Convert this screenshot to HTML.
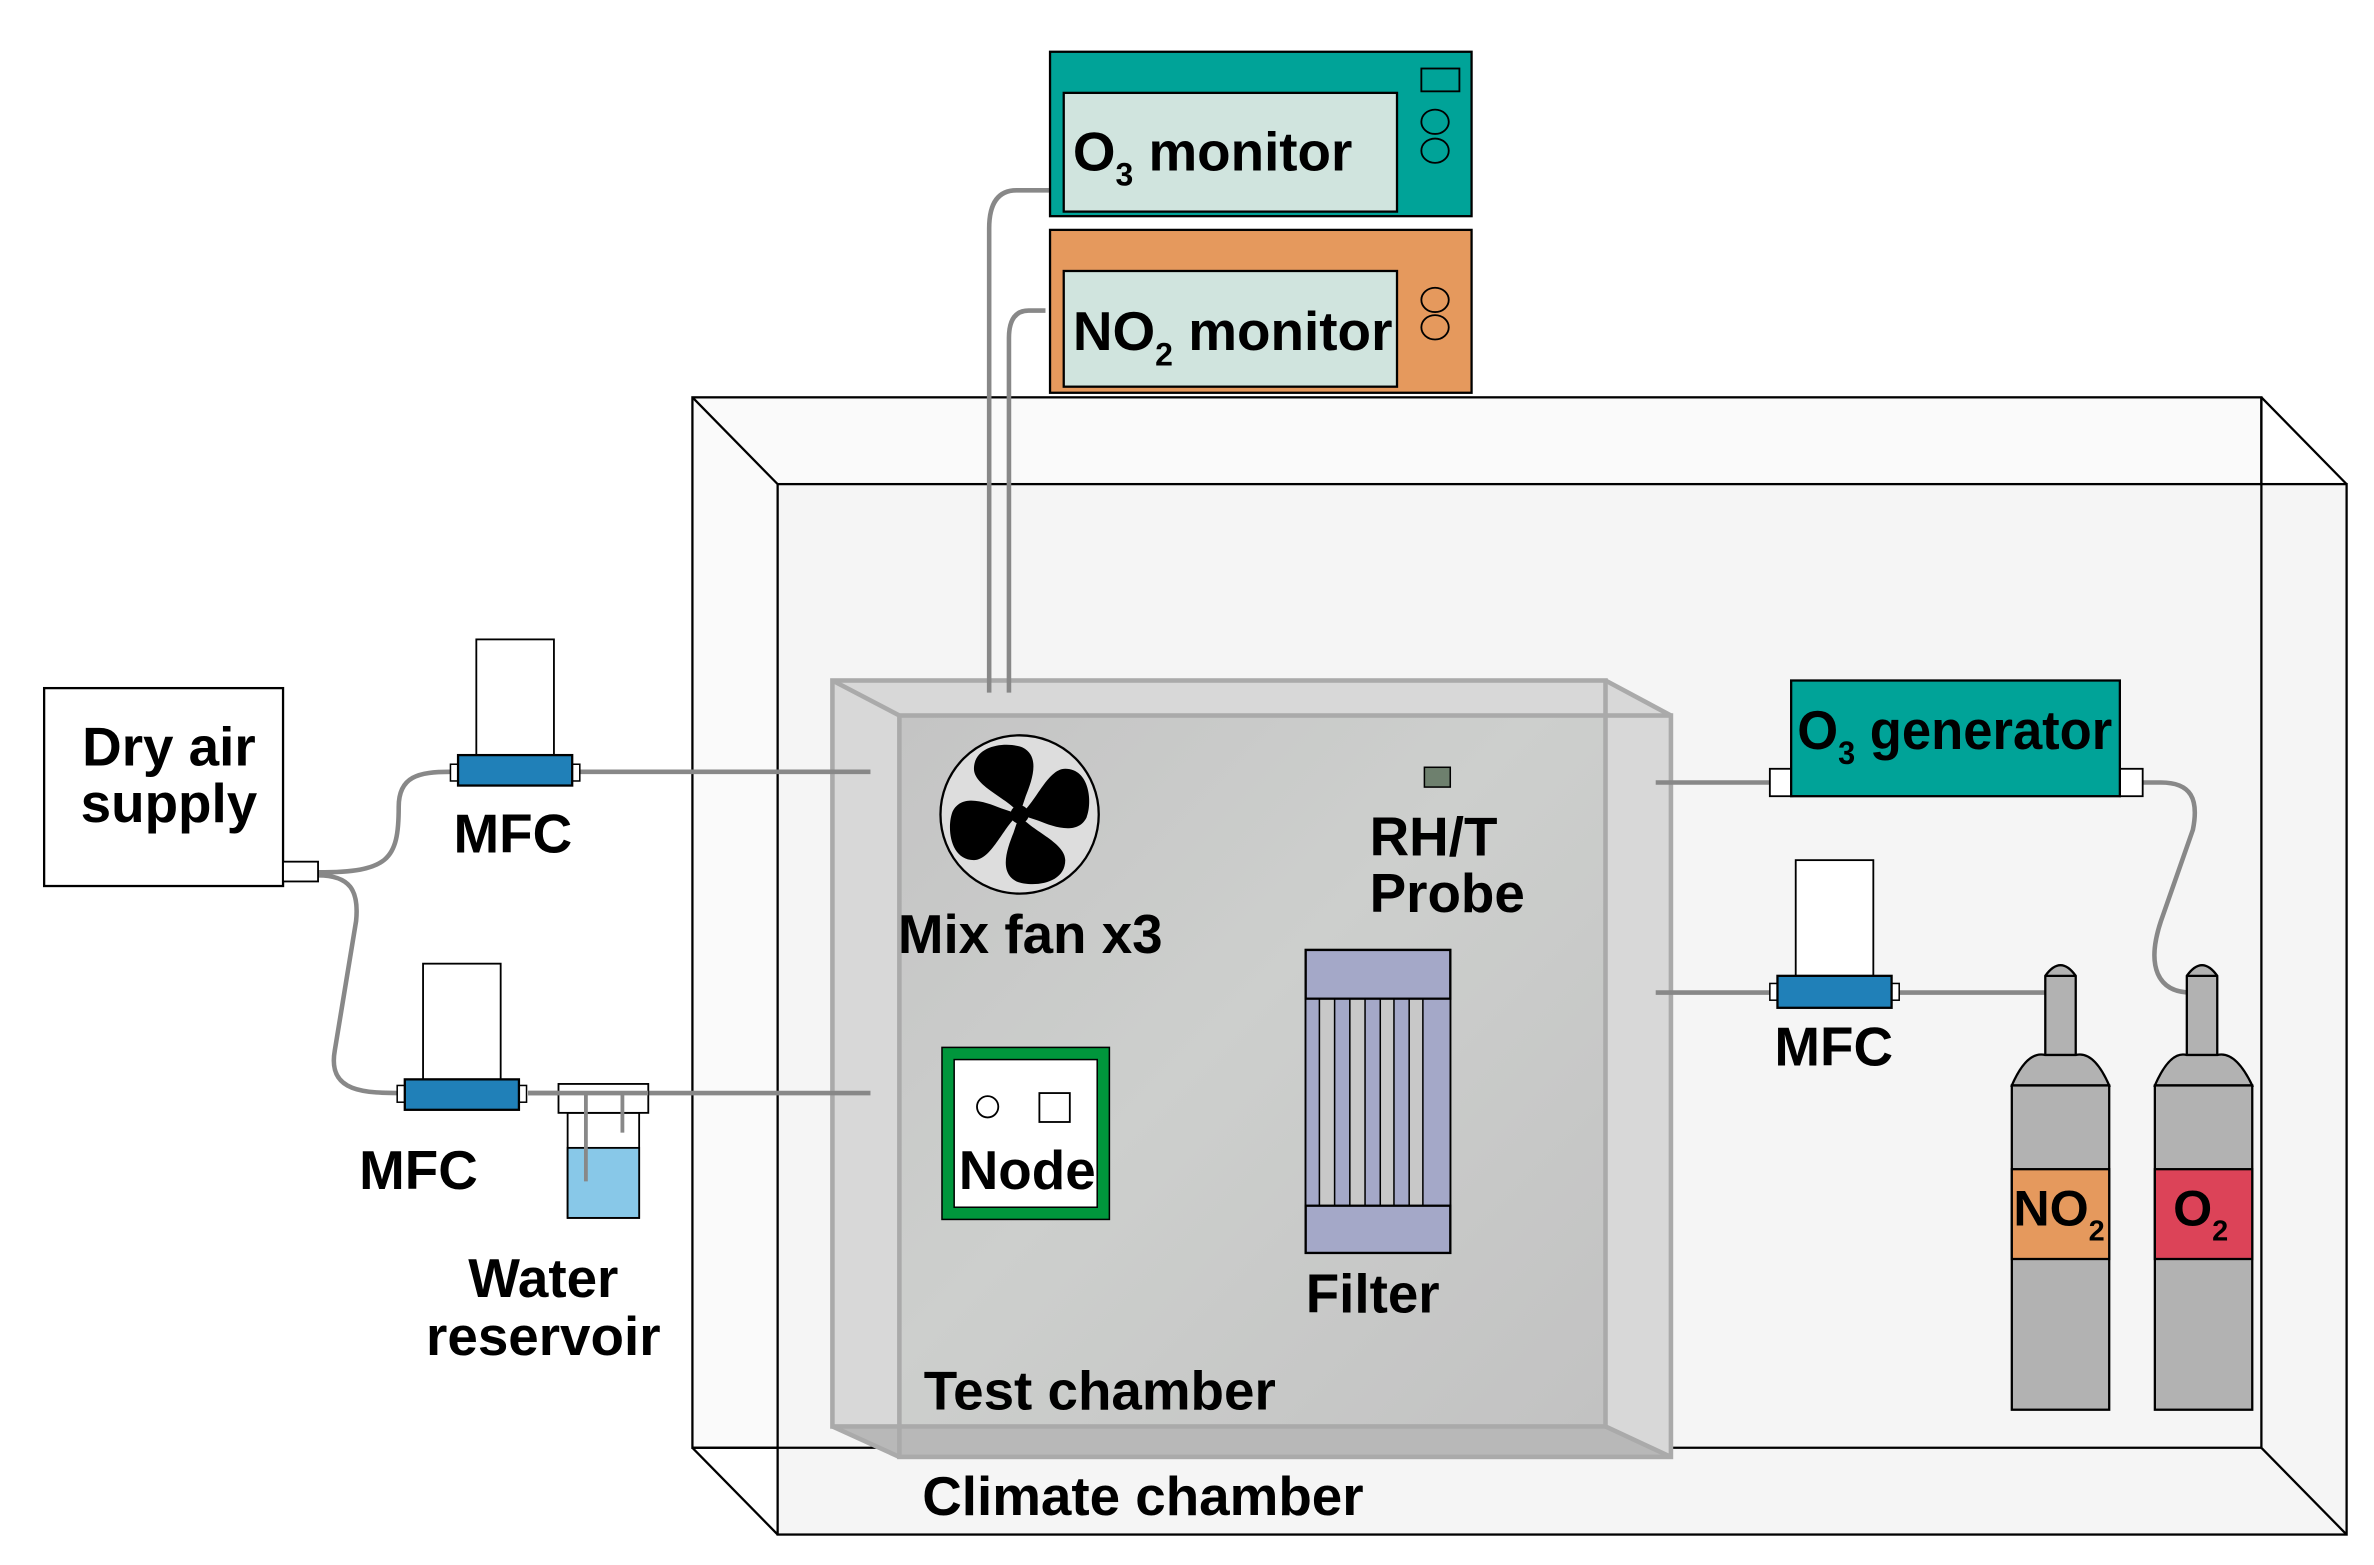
<!DOCTYPE html>
<html><head><meta charset="utf-8"><style>
html,body{margin:0;padding:0;background:#fff;}
svg{display:block;}
text{font-family:"Liberation Sans",Arial,sans-serif;font-weight:bold;fill:#000;}
</style></head><body>
<svg width="2374" height="1565" viewBox="0 0 1560 1028" preserveAspectRatio="none" xmlns="http://www.w3.org/2000/svg">
<defs>
<linearGradient id="tg" x1="0" y1="0" x2="1" y2="1">
<stop offset="0" stop-color="#c4c4c4"/><stop offset="0.45" stop-color="#cdcfcd"/><stop offset="1" stop-color="#c2c2c2"/>
</linearGradient>
</defs>
<rect width="1560" height="1028" fill="#fff"/>
<!-- Climate chamber -->
<rect x="455" y="261" width="1031" height="690" fill="#fafafa" stroke="#000" stroke-width="1.5"/>
<rect x="511" y="318" width="1031" height="690" fill="#f5f5f5" stroke="#000" stroke-width="1.5"/>
<line x1="455" y1="261" x2="511" y2="318" stroke="#000" stroke-width="1.5"/>
<line x1="1486" y1="261" x2="1542" y2="318" stroke="#000" stroke-width="1.5"/>
<line x1="455" y1="951" x2="511" y2="1008" stroke="#000" stroke-width="1.5"/>
<line x1="1486" y1="951" x2="1542" y2="1008" stroke="#000" stroke-width="1.5"/>
<line x1="455" y1="951" x2="1486" y2="951" stroke="#000" stroke-width="1.5"/>
<line x1="1486" y1="261" x2="1486" y2="951" stroke="#000" stroke-width="1.5"/>

<!-- Test chamber -->
<polygon points="547,447 1055,447 1098,470 1098,957 591,957 547,937" fill="#d8d8d8"/>
<rect x="591" y="470" width="464" height="467" fill="url(#tg)"/>
<polygon points="547,937 1055,937 1098,957 591,957" fill="#b8b8b8"/>
<g fill="none" stroke="#aaa" stroke-width="3">
<rect x="547" y="447" width="508" height="490"/>
<rect x="591" y="470" width="507" height="487"/>
<line x1="547" y1="447" x2="591" y2="470"/>
<line x1="1055" y1="447" x2="1098" y2="470"/>
<line x1="547" y1="937" x2="591" y2="957"/>
<line x1="1055" y1="937" x2="1098" y2="957"/>
</g>

<!-- tubes -->
<g fill="none" stroke="#888" stroke-width="3">
<path d="M690,125 L668,125 Q650,125 650,150 L650,455"/>
<path d="M687,204 L676,204 Q663,204 663,222 L663,455"/>
<path d="M381,507 L572,507"/>
<path d="M347,718 L572,718"/>
<path d="M209,573 C255,573 262,565 262,530 C262,510 275,507 296,507"/>
<path d="M209,575 C230,575 236,585 234,605 L220,690 C215,718 240,718 266,718"/>
<path d="M1088,514 L1163,514"/>
<path d="M1088,652 L1163,652"/>
<path d="M1248,652 L1344,652"/>
<path d="M1408,514 L1420,514 C1440,514 1445,525 1441,545 L1420,605 C1410,635 1418,652 1440,652"/>
</g>

<!-- O3 monitor -->
<rect x="690" y="34" width="277" height="108" fill="#00a398" stroke="#000" stroke-width="1.5"/>
<rect x="699" y="61" width="219" height="78" fill="#d0e4de" stroke="#000" stroke-width="1.5"/>
<rect x="934" y="45" width="25" height="15" fill="none" stroke="#000" stroke-width="1.2"/>
<ellipse cx="943" cy="80" rx="9" ry="8" fill="none" stroke="#000" stroke-width="1.2"/>
<ellipse cx="943" cy="99" rx="9" ry="8" fill="none" stroke="#000" stroke-width="1.2"/>
<text x="705" y="112" font-size="36">O<tspan font-size="21" dy="10">3</tspan><tspan dy="-10"> monitor</tspan></text>
<!-- NO2 monitor -->
<rect x="690" y="151" width="277" height="107" fill="#e5995d" stroke="#000" stroke-width="1.5"/>
<rect x="699" y="178" width="219" height="76" fill="#d0e4de" stroke="#000" stroke-width="1.5"/>
<ellipse cx="943" cy="197" rx="9" ry="8" fill="none" stroke="#000" stroke-width="1.2"/>
<ellipse cx="943" cy="215" rx="9" ry="8" fill="none" stroke="#000" stroke-width="1.2"/>
<text x="705" y="230" font-size="36" textLength="210" lengthAdjust="spacingAndGlyphs">NO<tspan font-size="21" dy="10">2</tspan><tspan dy="-10"> monitor</tspan></text>

<!-- Dry air -->
<rect x="29" y="452" width="157" height="130" fill="#fff" stroke="#000" stroke-width="1.5"/>
<rect x="186" y="566" width="23" height="13" fill="#fff" stroke="#000" stroke-width="1.2"/>
<text x="111" y="503" font-size="36" text-anchor="middle">Dry air</text>
<text x="111" y="540" font-size="36" text-anchor="middle">supply</text>

<!-- MFC top -->
<rect x="313" y="420" width="51" height="76" fill="#fff" stroke="#000" stroke-width="1.2"/>
<rect x="296" y="502" width="6" height="11" fill="#fff" stroke="#000" stroke-width="1"/>
<rect x="375" y="502" width="6" height="11" fill="#fff" stroke="#000" stroke-width="1"/>
<rect x="301" y="496" width="75" height="20" fill="#2080b8" stroke="#000" stroke-width="1.5"/>
<text x="337" y="560" font-size="36" text-anchor="middle">MFC</text>
<!-- MFC bottom -->
<rect x="278" y="633" width="51" height="76" fill="#fff" stroke="#000" stroke-width="1.2"/>
<rect x="261" y="713" width="6" height="11" fill="#fff" stroke="#000" stroke-width="1"/>
<rect x="340" y="713" width="6" height="11" fill="#fff" stroke="#000" stroke-width="1"/>
<rect x="266" y="709" width="75" height="20" fill="#2080b8" stroke="#000" stroke-width="1.5"/>
<text x="275" y="781" font-size="36" text-anchor="middle">MFC</text>
<!-- Water reservoir -->
<rect x="373" y="731" width="47" height="69" fill="#fff" stroke="#000" stroke-width="1.2"/>
<rect x="373" y="754" width="47" height="46" fill="#88c8e8" stroke="#000" stroke-width="1.2"/>
<rect x="367" y="712" width="59" height="19" fill="#fff" stroke="#000" stroke-width="1.2"/>
<line x1="347" y1="718" x2="426" y2="718" stroke="#888" stroke-width="3"/>
<line x1="385" y1="718" x2="385" y2="776" stroke="#888" stroke-width="2.5"/>
<line x1="409" y1="718" x2="409" y2="744" stroke="#888" stroke-width="2.5"/>
<text x="357" y="852" font-size="36" text-anchor="middle">Water</text>
<text x="357" y="890" font-size="36" text-anchor="middle">reservoir</text>

<!-- fan -->
<circle cx="670" cy="535" r="52" fill="#ddd" stroke="#000" stroke-width="1.5"/>
<g fill="#000" transform="translate(670,535)">
<g id="bl"><path d="M0,0 C-6,-10 -30,-18 -30,-30 C-30,-46 -8,-48 2,-44 C14,-38 8,-22 4,-12 Z"/></g>
<use href="#bl" transform="rotate(90)"/>
<use href="#bl" transform="rotate(180)"/>
<use href="#bl" transform="rotate(270)"/>
<circle r="6"/>
</g>
<text x="677" y="626" font-size="36" text-anchor="middle">Mix fan x3</text>

<!-- probe -->
<rect x="936" y="504" width="17" height="13" fill="#6e806e" stroke="#000" stroke-width="1"/>
<text x="900" y="562" font-size="36">RH/T</text>
<text x="900" y="599" font-size="36">Probe</text>

<!-- Node -->
<rect x="619" y="688" width="110" height="113" fill="#00963c" stroke="#000" stroke-width="1"/>
<rect x="627" y="696" width="94" height="97" fill="#fff" stroke="#000" stroke-width="1"/>
<circle cx="649" cy="727" r="7" fill="#fff" stroke="#000" stroke-width="1.2"/>
<rect x="683" y="718" width="20" height="19" fill="#fff" stroke="#000" stroke-width="1.2"/>
<text x="675" y="781" font-size="36" text-anchor="middle">Node</text>

<!-- Filter -->
<rect x="858" y="624" width="95" height="199" fill="#c8c8c8" stroke="#000" stroke-width="1.5"/>
<g fill="#a4a8c8" stroke="#000" stroke-width="1">
<rect x="858" y="656" width="9" height="136"/>
<rect x="877" y="656" width="10" height="136"/>
<rect x="897" y="656" width="10" height="136"/>
<rect x="916" y="656" width="10" height="136"/>
<rect x="935" y="656" width="18" height="136"/>
<rect x="858" y="624" width="95" height="32" stroke-width="1.5"/>
<rect x="858" y="792" width="95" height="31" stroke-width="1.5"/>
</g>
<text x="902" y="862" font-size="36" text-anchor="middle">Filter</text>

<text x="607" y="926" font-size="36">Test chamber</text>
<text x="606" y="995" font-size="36">Climate chamber</text>

<!-- O3 generator -->
<rect x="1163" y="505" width="15" height="18" fill="#fff" stroke="#000" stroke-width="1.2"/>
<rect x="1393" y="505" width="15" height="18" fill="#fff" stroke="#000" stroke-width="1.2"/>
<rect x="1177" y="447" width="216" height="76" fill="#00a398" stroke="#000" stroke-width="1.5"/>
<text x="1181" y="492" font-size="36" textLength="207" lengthAdjust="spacingAndGlyphs">O<tspan font-size="21" dy="10">3</tspan><tspan dy="-10"> generator</tspan></text>

<!-- MFC right -->
<rect x="1180" y="565" width="51" height="76" fill="#fff" stroke="#000" stroke-width="1.2"/>
<rect x="1163" y="646" width="6" height="11" fill="#fff" stroke="#000" stroke-width="1"/>
<rect x="1242" y="646" width="6" height="11" fill="#fff" stroke="#000" stroke-width="1"/>
<rect x="1168" y="641" width="75" height="21" fill="#2080b8" stroke="#000" stroke-width="1.5"/>
<text x="1205" y="700" font-size="36" text-anchor="middle">MFC</text>

<!-- cylinders -->
<g stroke="#000" stroke-width="1.5" fill="#b2b2b2">
<path d="M1344,693 L1344,641 Q1354,627 1364,641 L1364,693 Z"/>
<line x1="1344" y1="641" x2="1364" y2="641"/>
<path d="M1322,713 Q1332,690 1344,693 L1364,693 Q1376,690 1386,713 Z"/>
<rect x="1322" y="713" width="64" height="213"/>
<rect x="1322" y="768" width="64" height="59" fill="#e5995d"/>
<path d="M1437,693 L1437,641 Q1447,627 1457,641 L1457,693 Z"/>
<line x1="1437" y1="641" x2="1457" y2="641"/>
<path d="M1416,713 Q1426,690 1437,693 L1457,693 Q1469,690 1480,713 Z"/>
<rect x="1416" y="713" width="64" height="213"/>
<rect x="1416" y="768" width="64" height="59" fill="#dc4358"/>
</g>
<text x="1323" y="805" font-size="33">NO<tspan font-size="19" dy="10">2</tspan></text>
<text x="1428" y="805" font-size="33">O<tspan font-size="19" dy="10">2</tspan></text>
</svg>
</body></html>
